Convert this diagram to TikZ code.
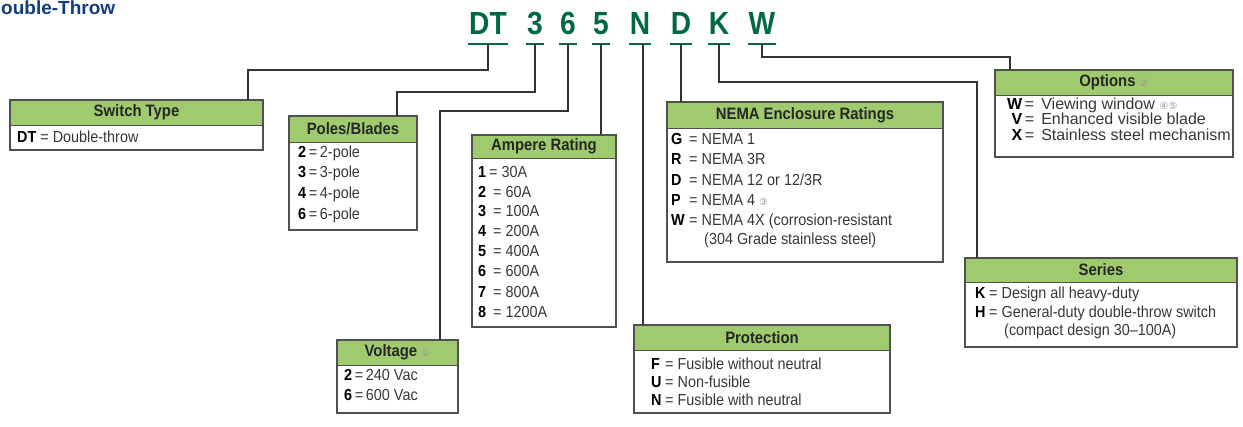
\documentclass[tikz,border=0pt]{standalone}
\usepackage{fontspec}
\setmainfont{Liberation Sans}
\newfontfamily\bodyf{Liberation Sans}[FakeStretch=0.9]
\newfontfamily\hdrf{Liberation Sans}[FakeStretch=0.9]
\newfontfamily\optf{Liberation Sans}[FakeStretch=1.0]
\newfontfamily\codef{Liberation Sans}[FakeStretch=0.88]
\newfontfamily\symf{DejaVu Sans}
\definecolor{hdrgreen}{RGB}{160,202,110}
\definecolor{codegreen}{RGB}{0,104,66}
\definecolor{bordergray}{RGB}{80,80,80}
\definecolor{txt}{RGB}{55,55,55}
\definecolor{titleblue}{RGB}{18,60,125}
\definecolor{fngray}{RGB}{150,150,150}
\newcommand\fnm[1]{{\symf\mdseries\fontsize{10}{10}\selectfont\color{fngray}#1}}
\newcommand\kk[2]{\makebox[#1][l]{\textbf{\color{black}#2}}}
\newcommand\kr[2]{\makebox[#1][r]{\textbf{\color{black}#2}}}
\tikzset{
  boxframe/.style={draw=bordergray, line width=1.1pt, inner sep=0pt, outer sep=0pt},
  htext/.style={font=\hdrf\bfseries\fontsize{16.5}{18}\selectfont, text=black!85, inner sep=0pt},
  body/.style={font=\bodyf\fontsize{16}{18}\selectfont, text=txt, anchor=mid west, inner sep=0pt},
  optbody/.style={font=\optf\fontsize{16}{18}\selectfont, text=txt, anchor=mid west, inner sep=0pt},
  code/.style={font=\codef\bfseries\fontsize{32}{32}\selectfont, text=codegreen, anchor=base, inner xsep=1pt, inner ysep=0pt, text depth=10pt},
  codeline/.style={draw=codegreen, line width=1.6pt},
  conn/.style={draw=black!80, line width=1.2pt},
}
\newcommand\mybox[7]{%
  \fill[hdrgreen] (#2,#3) rectangle (#4,#6);
  \draw[bordergray, line width=0.9pt] (#2,#6) -- (#4,#6);
  \node[boxframe, anchor=north west, minimum width={#4-#2}, minimum height={#5-#3}] (#1) at (#2,#3) {};
  \node[htext] (#1-t) at ({(#2+#4)/2},{(#3+#6)/2}) {#7};
}
\begin{document}
\begin{tikzpicture}[x=1pt,y=-1pt]
\useasboundingbox (0,0) rectangle (1243,426);

% title
\node[font=\bfseries\fontsize{19}{19}\selectfont, text=titleblue, anchor=base west, inner sep=0pt] (title) at (1,14.5) {ouble-Throw};

% code letters
\node[code] (cDT) at (488,34) {DT};
\node[code] (c3) at (535,34) {3};
\node[code] (c6) at (568,34) {6};
\node[code] (c5) at (601,34) {5};
\node[code] (cN) at (640,34) {N};
\node[code] (cD) at (681,34) {D};
\node[code] (cK) at (719,34) {K};
\node[code] (cW) at (762,34) {W};
\foreach \c in {cDT,c3,c6,c5,cN,cD,cK,cW}{
  \draw[codeline] (\c.south west) -- (\c.south east);
}

% boxes
\mybox{sw}{10}{100}{263}{150}{125}{Switch Type}
\mybox{pb}{289}{116}{417}{230}{142}{Poles/Blades}
\mybox{vo}{337}{340}{458}{413}{365}{Voltage \fnm{①}}
\mybox{am}{472}{135}{616}{327}{158}{Ampere Rating}
\mybox{ne}{667}{102}{943}{262}{128}{NEMA Enclosure Ratings}
\mybox{pr}{634}{325}{890}{413}{350}{Protection}
\mybox{op}{995}{70}{1233}{157}{95}{Options \fnm{②}}
\mybox{se}{965}{258}{1237}{347}{282}{Series}

% connectors
\coordinate (kDT) at (248,70);
\coordinate (k3) at (397,92);
\coordinate (k6) at (440,111);
\coordinate (kK) at (977,82);
\coordinate (kW) at (1010,57);
\draw[conn] (cDT.south) |- (kDT) -- (kDT |- sw.north);
\draw[conn] (c3.south) |- (k3) -- (k3 |- pb.north);
\draw[conn] (c6.south) |- (k6) -- (k6 |- vo.north);
\draw[conn] (c5.south) -- (c5.south |- am.north);
\draw[conn] ([xshift=3pt]cN.south) -- ([xshift=3pt]cN.south |- pr.north);
\draw[conn] (cD.south) -- (cD.south |- ne.north);
\draw[conn] (cK.south) |- (kK) -- (kK |- se.north);
\draw[conn] (cW.south) |- (kW) -- (kW |- op.north);

% Switch Type
\node[body] (sw1) at (17,140) {\textbf{\color{black}DT} = Double-throw};

% Poles/Blades
\node[body] (pb1) at (298,155) {\textbf{\color{black}2}\,=\,2-pole};
\node[body] (pb2) at (298,175) {\textbf{\color{black}3}\,=\,3-pole};
\node[body] (pb3) at (298,196) {\textbf{\color{black}4}\,=\,4-pole};
\node[body] (pb4) at (298,217) {\textbf{\color{black}6}\,=\,6-pole};

% Voltage
\node[body] (vo1) at (344,378) {\textbf{\color{black}2}\,=\,240 Vac};
\node[body] (vo2) at (344,398) {\textbf{\color{black}6}\,=\,600 Vac};

% Ampere Rating
\node[body] (am1) at (478,175) {\kk{11pt}{1}= 30A};
\node[body] (am2) at (478,195) {\kk{15pt}{2}= 60A};
\node[body] (am3) at (478,214) {\kk{15pt}{3}= 100A};
\node[body] (am4) at (478,234) {\kk{15pt}{4}= 200A};
\node[body] (am5) at (478,254) {\kk{15pt}{5}= 400A};
\node[body] (am6) at (478,274) {\kk{15pt}{6}= 600A};
\node[body] (am7) at (478,295) {\kk{15pt}{7}= 800A};
\node[body] (am8) at (478,315) {\kk{15pt}{8}= 1200A};

% NEMA
\node[body] (ne1) at (671,142) {\kk{18pt}{G}= NEMA 1};
\node[body] (ne2) at (671,162) {\kk{18pt}{R}= NEMA 3R};
\node[body] (ne3) at (671,183) {\kk{18pt}{D}= NEMA 12 or 12/3R};
\node[body] (ne4) at (671,203) {\kk{18pt}{P}= NEMA 4 \fnm{③}};
\node[body] (ne5) at (671,223) {\kk{18pt}{W}= NEMA 4X (corrosion-resistant};
\node[body] (ne6) at (704,242) {(304 Grade stainless steel)};

% Protection
\node[body] (pr1) at (651,367) {\kk{14pt}{F}= Fusible without neutral};
\node[body] (pr2) at (651,385) {\kk{14pt}{U}= Non-fusible};
\node[body] (pr3) at (651,403) {\kk{14pt}{N}= Fusible with neutral};

% Options
\node[optbody] (op1) at (1004,107) {\kr{18pt}{W}\,=\, Viewing window \fnm{④⑤}};
\node[optbody] (op2) at (1004,122) {\kr{18pt}{V}\,=\, Enhanced visible blade};
\node[optbody] (op3) at (1004,138) {\kr{18pt}{X}\,=\, Stainless steel mechanism};

% Series
\node[body] (se1) at (975,296) {\kk{14pt}{K}= Design all heavy-duty};
\node[body] (se2) at (975,315) {\kk{14pt}{H}= General-duty double-throw switch};
\node[body] (se3) at (1004,333) {(compact design 30–100A)};
\end{tikzpicture}
\end{document}
